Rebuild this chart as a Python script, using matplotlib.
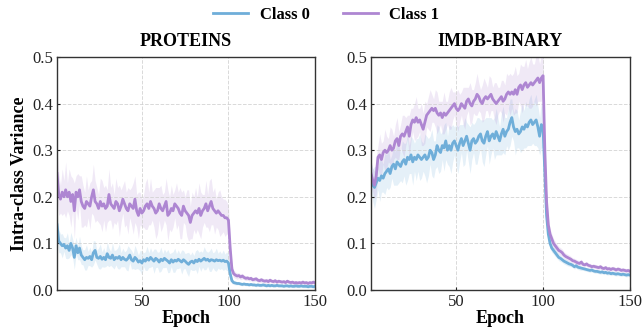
import numpy as np
import matplotlib
matplotlib.use('Agg')
import matplotlib.pyplot as plt

plt.rcParams['font.family'] = ['Liberation Serif', 'DejaVu Serif']
plt.rcParams['mathtext.fontset'] = 'stix'

# ── data (per-epoch mean and std) ──
epochs = np.arange(1, 151)
datasets = ['PROTEINS', 'IMDB-BINARY']
class_labels = ['Class 0', 'Class 1']

proteins_c0 = [
    0.14, 0.105, 0.10, 0.095, 0.098, 0.09, 0.095, 0.085, 0.10, 0.09,
    0.07, 0.095, 0.08, 0.09, 0.075, 0.07, 0.065, 0.07, 0.068, 0.072,
    0.065, 0.08, 0.085, 0.07, 0.068, 0.072, 0.066, 0.07, 0.065, 0.078,
    0.07, 0.068, 0.075, 0.065, 0.07, 0.068, 0.072, 0.065, 0.07, 0.066,
    0.064, 0.068, 0.075, 0.065, 0.062, 0.07, 0.066, 0.06, 0.063, 0.058,
    0.065, 0.062, 0.068, 0.064, 0.07, 0.066, 0.062, 0.068, 0.065, 0.06,
    0.066, 0.063, 0.068, 0.065, 0.062, 0.058, 0.065, 0.06, 0.064, 0.062,
    0.066, 0.063, 0.06, 0.065, 0.062, 0.058, 0.055, 0.06, 0.062, 0.058,
    0.064, 0.061, 0.066, 0.062, 0.065, 0.068, 0.064, 0.066, 0.062, 0.065,
    0.064, 0.062, 0.065, 0.063, 0.064, 0.062, 0.064, 0.061, 0.062, 0.058,
    0.035, 0.02, 0.016, 0.015, 0.014, 0.014, 0.013, 0.012, 0.013, 0.012,
    0.012, 0.011, 0.012, 0.011, 0.011, 0.010, 0.011, 0.010, 0.010, 0.011,
    0.010, 0.009, 0.010, 0.009, 0.010, 0.009, 0.009, 0.010, 0.009, 0.009,
    0.009, 0.008, 0.009, 0.009, 0.008, 0.009, 0.008, 0.008, 0.009, 0.008,
    0.008, 0.009, 0.008, 0.008, 0.008, 0.007, 0.008, 0.008, 0.007, 0.008,
]
proteins_c0_std = [
    0.03, 0.025, 0.02, 0.026, 0.015, 0.022, 0.028, 0.016, 0.024, 0.02,
    0.026, 0.018, 0.015, 0.025, 0.02, 0.016, 0.022, 0.027, 0.015, 0.02,
    0.016, 0.026, 0.02, 0.015, 0.022, 0.027, 0.016, 0.021, 0.015, 0.025,
    0.02, 0.015, 0.026, 0.02, 0.016, 0.022, 0.027, 0.015, 0.02, 0.016,
    0.021, 0.027, 0.015, 0.02, 0.016, 0.026, 0.02, 0.015, 0.022, 0.026,
    0.015, 0.02, 0.026, 0.016, 0.021, 0.015, 0.026, 0.02, 0.016, 0.022,
    0.026, 0.015, 0.02, 0.016, 0.025, 0.02, 0.015, 0.022, 0.026, 0.016,
    0.02, 0.015, 0.026, 0.02, 0.016, 0.022, 0.026, 0.015, 0.02, 0.016,
    0.02, 0.026, 0.015, 0.022, 0.016, 0.025, 0.02, 0.015, 0.022, 0.025,
    0.016, 0.02, 0.025, 0.016, 0.02, 0.016, 0.022, 0.016, 0.02, 0.018,
    0.012, 0.006, 0.004, 0.004, 0.003, 0.003, 0.003, 0.003, 0.003, 0.003,
    0.003, 0.003, 0.003, 0.003, 0.003, 0.003, 0.003, 0.003, 0.003, 0.003,
    0.003, 0.003, 0.003, 0.003, 0.003, 0.003, 0.003, 0.003, 0.003, 0.003,
    0.003, 0.003, 0.003, 0.003, 0.003, 0.003, 0.003, 0.003, 0.003, 0.003,
    0.003, 0.003, 0.003, 0.003, 0.003, 0.003, 0.003, 0.003, 0.003, 0.003,
]
proteins_c1 = [
    0.25, 0.205, 0.195, 0.21, 0.20, 0.215, 0.20, 0.21, 0.19, 0.205,
    0.17, 0.21, 0.20, 0.215, 0.19, 0.18, 0.175, 0.19, 0.185, 0.18,
    0.20, 0.215, 0.19, 0.185, 0.175, 0.19, 0.18, 0.185, 0.175, 0.18,
    0.205, 0.185, 0.18, 0.175, 0.19, 0.185, 0.17, 0.18, 0.195, 0.185,
    0.175, 0.17, 0.185, 0.18, 0.175, 0.195, 0.17, 0.16, 0.175, 0.165,
    0.17, 0.18, 0.185, 0.175, 0.19, 0.18, 0.175, 0.165, 0.17, 0.185,
    0.175, 0.17, 0.18, 0.19, 0.16, 0.165, 0.175, 0.17, 0.185, 0.18,
    0.175, 0.165, 0.16, 0.18, 0.17, 0.165, 0.16, 0.145, 0.16, 0.165,
    0.17, 0.165, 0.175, 0.16, 0.17, 0.175, 0.185, 0.17, 0.18, 0.19,
    0.175, 0.17, 0.165, 0.17, 0.165, 0.16, 0.16, 0.155, 0.155, 0.15,
    0.09, 0.045, 0.035, 0.032, 0.03, 0.031, 0.028, 0.03, 0.027, 0.025,
    0.026, 0.024, 0.025, 0.022, 0.023, 0.024, 0.021, 0.02, 0.022, 0.02,
    0.019, 0.02, 0.018, 0.021, 0.019, 0.018, 0.02, 0.017, 0.019, 0.018,
    0.017, 0.018, 0.016, 0.019, 0.017, 0.016, 0.017, 0.015, 0.016, 0.015,
    0.016, 0.015, 0.017, 0.015, 0.016, 0.014, 0.016, 0.015, 0.017, 0.015,
]
proteins_c1_std = [
    0.05, 0.045, 0.03, 0.05, 0.035, 0.06, 0.03, 0.05, 0.055, 0.035,
    0.06, 0.035, 0.05, 0.03, 0.055, 0.045, 0.035, 0.055, 0.03, 0.05,
    0.035, 0.055, 0.045, 0.035, 0.03, 0.05, 0.055, 0.035, 0.05, 0.035,
    0.055, 0.035, 0.05, 0.03, 0.05, 0.035, 0.055, 0.035, 0.03, 0.05,
    0.035, 0.05, 0.03, 0.04, 0.055, 0.05, 0.035, 0.05, 0.035, 0.03,
    0.035, 0.05, 0.055, 0.035, 0.05, 0.03, 0.04, 0.055, 0.05, 0.035,
    0.05, 0.035, 0.03, 0.05, 0.055, 0.035, 0.05, 0.035, 0.03, 0.05,
    0.035, 0.055, 0.05, 0.035, 0.03, 0.05, 0.055, 0.035, 0.05, 0.035,
    0.05, 0.035, 0.055, 0.05, 0.035, 0.03, 0.05, 0.035, 0.055, 0.05,
    0.035, 0.05, 0.03, 0.04, 0.05, 0.04, 0.035, 0.04, 0.035, 0.03,
    0.02, 0.01, 0.008, 0.007, 0.007, 0.006, 0.006, 0.006, 0.005, 0.005,
    0.005, 0.005, 0.005, 0.005, 0.005, 0.005, 0.005, 0.005, 0.005, 0.005,
    0.005, 0.005, 0.005, 0.005, 0.004, 0.005, 0.004, 0.005, 0.004, 0.004,
    0.004, 0.004, 0.004, 0.004, 0.004, 0.004, 0.004, 0.004, 0.004, 0.004,
    0.004, 0.004, 0.004, 0.004, 0.004, 0.004, 0.004, 0.004, 0.004, 0.004,
]

imdb_c0 = [
    0.245, 0.225, 0.22, 0.23, 0.24, 0.235, 0.245, 0.24, 0.25, 0.255,
    0.26, 0.25, 0.265, 0.27, 0.26, 0.275, 0.27, 0.265, 0.275, 0.28,
    0.27, 0.285, 0.28, 0.29, 0.275, 0.285, 0.28, 0.29, 0.285, 0.28,
    0.285, 0.29, 0.28, 0.285, 0.30, 0.295, 0.28, 0.29, 0.31, 0.30,
    0.295, 0.31, 0.305, 0.32, 0.30, 0.31, 0.30, 0.315, 0.32, 0.31,
    0.30, 0.315, 0.325, 0.31, 0.32, 0.33, 0.315, 0.30, 0.32, 0.325,
    0.315, 0.32, 0.33, 0.335, 0.32, 0.315, 0.33, 0.34, 0.32, 0.33,
    0.335, 0.325, 0.34, 0.33, 0.32, 0.335, 0.345, 0.33, 0.34, 0.345,
    0.36, 0.37, 0.35, 0.34, 0.345, 0.335, 0.34, 0.35, 0.345, 0.355,
    0.35, 0.36, 0.365, 0.355, 0.36, 0.365, 0.35, 0.33, 0.355, 0.345,
    0.25, 0.16, 0.12, 0.10, 0.09, 0.085, 0.08, 0.075, 0.07, 0.068,
    0.065, 0.062, 0.06, 0.058, 0.056, 0.055, 0.053, 0.05, 0.052, 0.049,
    0.048, 0.047, 0.046, 0.045, 0.044, 0.043, 0.042, 0.043, 0.041, 0.04,
    0.04, 0.039, 0.038, 0.039, 0.037, 0.038, 0.036, 0.037, 0.035, 0.036,
    0.035, 0.034, 0.035, 0.034, 0.033, 0.034, 0.033, 0.032, 0.033, 0.032,
]
imdb_c0_std = [
    0.03, 0.035, 0.045, 0.035, 0.025, 0.045, 0.035, 0.03, 0.045, 0.035,
    0.045, 0.03, 0.025, 0.045, 0.035, 0.05, 0.04, 0.03, 0.045, 0.035,
    0.045, 0.05, 0.03, 0.04, 0.05, 0.03, 0.045, 0.035, 0.05, 0.04,
    0.03, 0.045, 0.05, 0.04, 0.03, 0.05, 0.04, 0.03, 0.045, 0.05,
    0.04, 0.03, 0.05, 0.04, 0.03, 0.045, 0.05, 0.04, 0.03, 0.045,
    0.05, 0.04, 0.03, 0.045, 0.05, 0.03, 0.04, 0.05, 0.04, 0.03,
    0.045, 0.05, 0.04, 0.03, 0.045, 0.05, 0.04, 0.03, 0.05, 0.04,
    0.03, 0.045, 0.05, 0.04, 0.03, 0.045, 0.05, 0.04, 0.03, 0.045,
    0.05, 0.04, 0.03, 0.05, 0.04, 0.03, 0.045, 0.05, 0.04, 0.05,
    0.04, 0.05, 0.055, 0.04, 0.05, 0.055, 0.045, 0.04, 0.05, 0.04,
    0.03, 0.02, 0.012, 0.01, 0.009, 0.008, 0.008, 0.007, 0.007, 0.007,
    0.006, 0.006, 0.006, 0.006, 0.005, 0.005, 0.005, 0.005, 0.005, 0.005,
    0.005, 0.005, 0.004, 0.004, 0.004, 0.004, 0.004, 0.004, 0.004, 0.004,
    0.004, 0.004, 0.004, 0.004, 0.004, 0.004, 0.004, 0.004, 0.004, 0.004,
    0.004, 0.004, 0.004, 0.004, 0.004, 0.004, 0.004, 0.004, 0.004, 0.004,
]
imdb_c1 = [
    0.25, 0.235, 0.225, 0.245, 0.285, 0.29, 0.28, 0.295, 0.30, 0.295,
    0.30, 0.31, 0.30, 0.305, 0.32, 0.325, 0.31, 0.33, 0.335, 0.33,
    0.34, 0.35, 0.33, 0.355, 0.365, 0.36, 0.37, 0.36, 0.365, 0.355,
    0.345, 0.36, 0.375, 0.38, 0.385, 0.39, 0.385, 0.39, 0.38, 0.375,
    0.38, 0.37, 0.38, 0.375, 0.38, 0.385, 0.39, 0.395, 0.40, 0.39,
    0.385, 0.39, 0.40, 0.395, 0.39, 0.405, 0.41, 0.40, 0.395, 0.405,
    0.41, 0.42, 0.415, 0.405, 0.40, 0.41, 0.415, 0.41, 0.415, 0.42,
    0.41, 0.405, 0.40, 0.405, 0.41, 0.415, 0.405, 0.41, 0.42, 0.425,
    0.42, 0.425, 0.42, 0.43, 0.42, 0.435, 0.44, 0.43, 0.44, 0.445,
    0.435, 0.44, 0.445, 0.44, 0.445, 0.45, 0.455, 0.445, 0.455, 0.46,
    0.30, 0.19, 0.14, 0.12, 0.11, 0.10, 0.095, 0.09, 0.085, 0.083,
    0.08, 0.075, 0.072, 0.07, 0.068, 0.066, 0.063, 0.062, 0.06, 0.058,
    0.057, 0.06, 0.055, 0.054, 0.056, 0.053, 0.052, 0.05, 0.051, 0.05,
    0.049, 0.048, 0.05, 0.047, 0.046, 0.048, 0.045, 0.046, 0.044, 0.046,
    0.045, 0.043, 0.045, 0.044, 0.042, 0.043, 0.042, 0.041, 0.042, 0.04,
]
imdb_c1_std = [
    0.03, 0.025, 0.03, 0.04, 0.025, 0.045, 0.035, 0.025, 0.045, 0.035,
    0.025, 0.04, 0.045, 0.025, 0.035, 0.045, 0.03, 0.025, 0.04, 0.045,
    0.03, 0.025, 0.045, 0.035, 0.025, 0.04, 0.045, 0.03, 0.025, 0.045,
    0.035, 0.045, 0.025, 0.035, 0.045, 0.03, 0.025, 0.04, 0.045, 0.03,
    0.025, 0.035, 0.045, 0.03, 0.025, 0.04, 0.045, 0.03, 0.025, 0.035,
    0.045, 0.03, 0.025, 0.04, 0.045, 0.03, 0.025, 0.045, 0.035, 0.025,
    0.035, 0.045, 0.03, 0.025, 0.04, 0.045, 0.03, 0.025, 0.045, 0.035,
    0.025, 0.04, 0.045, 0.03, 0.025, 0.035, 0.045, 0.03, 0.045, 0.035,
    0.045, 0.035, 0.045, 0.05, 0.04, 0.03, 0.045, 0.05, 0.04, 0.05,
    0.04, 0.05, 0.055, 0.045, 0.04, 0.055, 0.05, 0.04, 0.05, 0.045,
    0.03, 0.02, 0.015, 0.012, 0.01, 0.01, 0.009, 0.009, 0.008, 0.008,
    0.008, 0.007, 0.007, 0.007, 0.007, 0.006, 0.006, 0.006, 0.006, 0.006,
    0.006, 0.006, 0.005, 0.005, 0.005, 0.005, 0.005, 0.005, 0.005, 0.005,
    0.005, 0.005, 0.005, 0.005, 0.005, 0.005, 0.005, 0.005, 0.005, 0.005,
    0.005, 0.005, 0.005, 0.005, 0.005, 0.005, 0.005, 0.005, 0.005, 0.005,
]

series = {
    'PROTEINS': [(proteins_c0, proteins_c0_std), (proteins_c1, proteins_c1_std)],
    'IMDB-BINARY': [(imdb_c0, imdb_c0_std), (imdb_c1, imdb_c1_std)],
}
colors = ['#6FAED9', '#AE86D2']

fig = plt.figure(figsize=(6.42, 3.29), dpi=100)
ax_pos = [[0.0888, 0.1185, 0.4019, 0.7082],
          [0.5779, 0.1185, 0.4034, 0.7082]]

handles = []
for i, name in enumerate(datasets):
    ax = fig.add_axes(ax_pos[i])
    for k, (m, s) in enumerate(series[name]):
        m = np.asarray(m)
        s = np.asarray(s)
        ax.fill_between(epochs, m - s, m + s, color=colors[k], alpha=0.18,
                        linewidth=0)
        ln, = ax.plot(epochs, m, color=colors[k], linewidth=2.0,
                      label=class_labels[k])
        if i == 0:
            handles.append(ln)
    ax.set_xlim(1, 150)
    ax.set_ylim(0, 0.5)
    ax.set_xticks([50, 100, 150])
    ax.set_yticks([0.0, 0.1, 0.2, 0.3, 0.4, 0.5])
    ax.set_yticklabels(['0.0', '0.1', '0.2', '0.3', '0.4', '0.5'])
    ax.grid(True, linestyle='--', color='#d0d0d0', linewidth=0.7, alpha=0.8)
    ax.tick_params(direction='in', length=2, labelsize=12, pad=3,
                   colors='#222222')
    for sp in ax.spines.values():
        sp.set_color('#333333')
        sp.set_linewidth(1.0)
    ax.set_title(name, fontsize=13, fontweight='bold', pad=8)
    ax.set_xlabel('Epoch', fontsize=13, fontweight='bold', labelpad=0)
    if i == 0:
        ax.set_ylabel('Intra-class Variance', fontsize=13, fontweight='bold',
                      labelpad=3)

fig.legend(handles=handles, labels=class_labels, loc='upper center',
           bbox_to_anchor=(0.508, 1.025), ncol=2, frameon=False,
           prop={'weight': 'bold', 'size': 12}, handlelength=2.1,
           handletextpad=0.7, columnspacing=2.0)

fig.savefig('out.png', dpi=100)
